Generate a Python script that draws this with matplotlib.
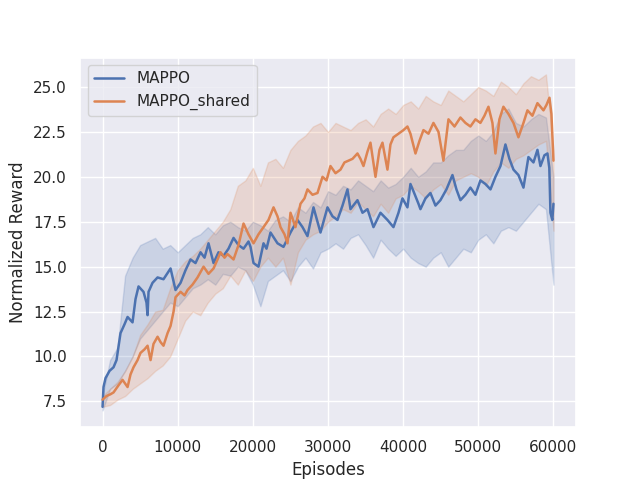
import numpy as np
import matplotlib
matplotlib.use("Agg")
import matplotlib.pyplot as plt
import seaborn as sns

sns.set_theme()

# MAPPO mean curve (episodes, reward)
mappo_ep = [0, 130, 400, 930, 1460, 1860, 2390, 2930, 3330, 3990, 4390, 4790, 5450, 5850, 5990,
            6120, 6650, 7320, 8110, 9050, 9710, 10380, 11040, 11710, 12370, 13040, 13570, 14100,
            14770, 15430, 16100, 16760, 17430, 18090, 18760, 19420, 19690, 20090, 20750, 21420,
            21820, 22350, 23280, 24080, 25010, 25940, 26610, 27270, 28070, 28600, 29000, 29930,
            30600, 31260, 31930, 32590, 32990, 33920, 34590, 35250, 36050, 36980, 37910, 38710,
            39380, 39910, 40570, 40970, 41370, 42040, 42300, 42970, 43630, 44300, 44960, 45760,
            46560, 47090, 47620, 48290, 48950, 49620, 50280, 50950, 51620, 52280, 52950, 53610,
            54140, 54680, 55340, 56010, 56670, 57340, 57870, 58270, 58800, 59200, 59450, 59600,
            59850, 60000]
mappo_mean = [7.2, 8.3, 8.8, 9.2, 9.4, 9.8, 11.3, 11.8, 12.2, 11.9, 13.2, 13.9, 13.6, 13.0, 12.3,
              13.6, 14.1, 14.4, 14.3, 14.9, 13.7, 14.1, 14.8, 15.4, 15.2, 15.8, 15.5, 16.3,
              15.2, 15.8, 15.6, 16.0, 16.6, 16.2, 16.0, 16.4, 16.1, 15.2, 15.0, 16.3,
              16.0, 16.9, 16.3, 16.1, 16.9, 17.6, 17.2, 16.7, 18.3, 17.5, 16.9, 18.3,
              17.8, 17.6, 18.4, 19.3, 18.2, 18.7, 18.0, 18.2, 17.2, 18.0, 17.6, 17.2,
              18.0, 18.8, 18.3, 19.6, 19.2, 18.5, 18.2, 18.8, 19.1, 18.4, 18.7, 19.3,
              20.1, 19.3, 18.7, 19.0, 19.4, 19.0, 19.8, 19.6, 19.3, 20.0, 20.6, 21.8,
              21.0, 20.4, 20.1, 19.4, 21.1, 20.8, 21.5, 20.6, 21.2, 21.3, 20.5, 18.0,
              17.6, 18.5]

# MAPPO_shared mean curve
shared_ep = [0, 530, 1060, 1460, 2130, 2660, 3330, 3720, 4120, 4660, 5050, 5590, 5990, 6390,
             6780, 7320, 7720, 8110, 8650, 9050, 9450, 9710, 10380, 10910, 11310, 11970, 12640,
             13040, 13440, 14100, 14770, 15300, 15700, 16230, 16630, 17430, 18090, 18760, 19420,
             20090, 20750, 21420, 22080, 22750, 23280, 23680, 24210, 24610, 25010, 25670, 26340,
             26870, 27270, 27940, 28600, 29270, 29800, 30330, 31000, 31660, 32190, 32730, 33260,
             33920, 34320, 34720, 35250, 35650, 36320, 36850, 37250, 37910, 38310, 38710, 39380,
             40040, 40570, 40970, 41640, 42170, 42700, 43370, 44030, 44700, 45360, 46030, 46830,
             47620, 48290, 48950, 49620, 50280, 50820, 51350, 51880, 52280, 52810, 53340, 54010,
             54680, 55340, 56010, 56540, 57200, 57870, 58670, 59070, 59470, 59730, 60000]
shared_mean = [7.6, 7.8, 7.9, 8.0, 8.4, 8.7, 8.3, 9.0, 9.4, 9.8, 10.2, 10.4, 10.6, 9.8,
               10.7, 11.1, 10.8, 10.6, 11.3, 11.7, 12.5, 13.3, 13.6, 13.4, 13.7, 14.0, 14.4,
               14.7, 15.0, 14.6, 14.9, 15.4, 15.8, 15.5, 15.7, 15.4, 16.2, 17.4, 16.8,
               16.3, 16.8, 17.2, 17.6, 18.3, 17.8, 17.2, 16.8, 16.3, 18.0, 17.2, 18.5,
               18.8, 19.3, 19.0, 19.1, 20.0, 19.8, 20.6, 20.2, 20.4, 20.8, 20.9, 21.0,
               21.3, 21.0, 20.6, 21.4, 21.9, 20.0, 21.5, 21.9, 20.4, 21.8, 22.2, 22.4,
               22.6, 22.8, 22.4, 21.3, 22.0, 22.6, 22.4, 23.0, 22.5, 20.9, 23.2, 22.8,
               23.3, 23.0, 22.8, 23.2, 23.0, 23.4, 23.9, 23.0, 21.3, 23.2, 23.9, 23.5,
               23.0, 22.2, 23.0, 23.7, 23.4, 24.1, 23.7, 24.0, 24.4, 23.5, 20.9]

# shaded bands, every 1000 episodes
band_ep = list(range(0, 60001, 1000))
mappo_low = [7.0, 8.2, 8.5, 9.2, 10.0, 11.0, 11.5, 12.0, 12.5, 13.0, 12.8, 13.3, 13.8, 14.0, 14.3,
             14.0, 14.6, 14.5, 15.0, 14.8, 14.0, 12.8, 14.2, 14.5, 14.8, 14.2, 15.0, 15.5, 14.9,
             15.8, 16.0, 16.3, 16.0, 16.6, 16.8, 16.2, 15.5, 16.5, 16.0, 15.6, 16.0, 15.5, 15.2,
             15.0, 15.5, 15.8, 15.0, 15.5, 16.0, 15.8, 16.5, 16.8, 16.3, 17.0, 17.2, 17.0, 17.5,
             18.0, 18.5, 18.2, 14.0]
mappo_high = [7.8, 9.8, 10.5, 14.5, 15.5, 16.2, 16.4, 16.6, 16.0, 16.2, 15.8, 16.2, 16.6, 16.8,
              17.2, 16.8, 17.3, 17.5, 17.2, 17.0, 17.5, 17.3, 17.0, 17.6, 17.8, 17.5, 18.3, 18.0,
              18.6, 18.3, 19.2, 19.0, 19.5, 19.3, 19.8, 19.5, 19.2, 19.8, 19.4, 19.6, 20.0, 20.5,
              20.0, 20.3, 20.8, 20.8, 21.2, 21.5, 21.5, 22.0, 22.3, 22.0, 22.5, 23.5, 23.8, 23.0,
              22.8, 23.2, 23.5, 23.3, 20.0]
shared_low = [7.2, 7.3, 7.6, 7.8, 8.2, 8.5, 8.8, 9.2, 9.5, 10.0, 11.0, 12.0, 12.5, 12.3, 13.0,
              13.5, 13.8, 14.5, 14.0, 14.8, 14.2, 15.0, 15.5, 15.0, 15.5, 14.0, 15.8, 16.5, 16.8,
              17.0, 17.5, 17.8, 18.2, 18.0, 18.6, 18.2, 17.8, 18.5, 18.0, 18.8, 19.0, 19.5, 19.2,
              18.8, 19.3, 19.6, 19.0, 19.8, 20.0, 20.2, 20.0, 19.5, 20.3, 20.8, 20.5, 21.0, 21.2,
              21.5, 21.8, 22.0, 17.0]
shared_high = [7.8, 8.2, 8.6, 9.2, 10.0, 11.2, 11.8, 12.5, 12.6, 13.8, 14.8, 15.3, 15.6, 16.0,
               16.5, 17.0, 17.5, 18.2, 19.5, 19.8, 20.5, 19.5, 20.8, 21.0, 20.5, 21.5, 22.0, 22.3,
               22.8, 23.0, 22.5, 23.0, 22.8, 22.6, 23.0, 23.2, 22.8, 23.5, 23.8, 23.5, 24.0, 24.2,
               23.8, 24.5, 24.2, 24.0, 24.8, 24.5, 24.2, 24.6, 25.0, 24.8, 24.5, 25.3, 25.0, 24.6,
               25.2, 25.6, 25.4, 25.7, 21.5]

blue = sns.color_palette("deep")[0]
orange = sns.color_palette("deep")[1]

fig, ax = plt.subplots(figsize=(6.4, 4.8), dpi=100)
ax.fill_between(band_ep, mappo_low, mappo_high, color=blue, alpha=0.2, linewidth=1)
ax.fill_between(band_ep, shared_low, shared_high, color=orange, alpha=0.2, linewidth=1)
ax.plot(mappo_ep, mappo_mean, color=blue, linewidth=1.8, label="MAPPO")
ax.plot(shared_ep, shared_mean, color=orange, linewidth=1.8, label="MAPPO_shared")

ax.set_xlabel("Episodes")
ax.set_ylabel("Normalized Reward")
ax.set_xticks(np.arange(0, 60001, 10000))
ax.set_yticks(np.arange(7.5, 25.01, 2.5))
ax.legend(loc="upper left")

fig.savefig("out.png")
